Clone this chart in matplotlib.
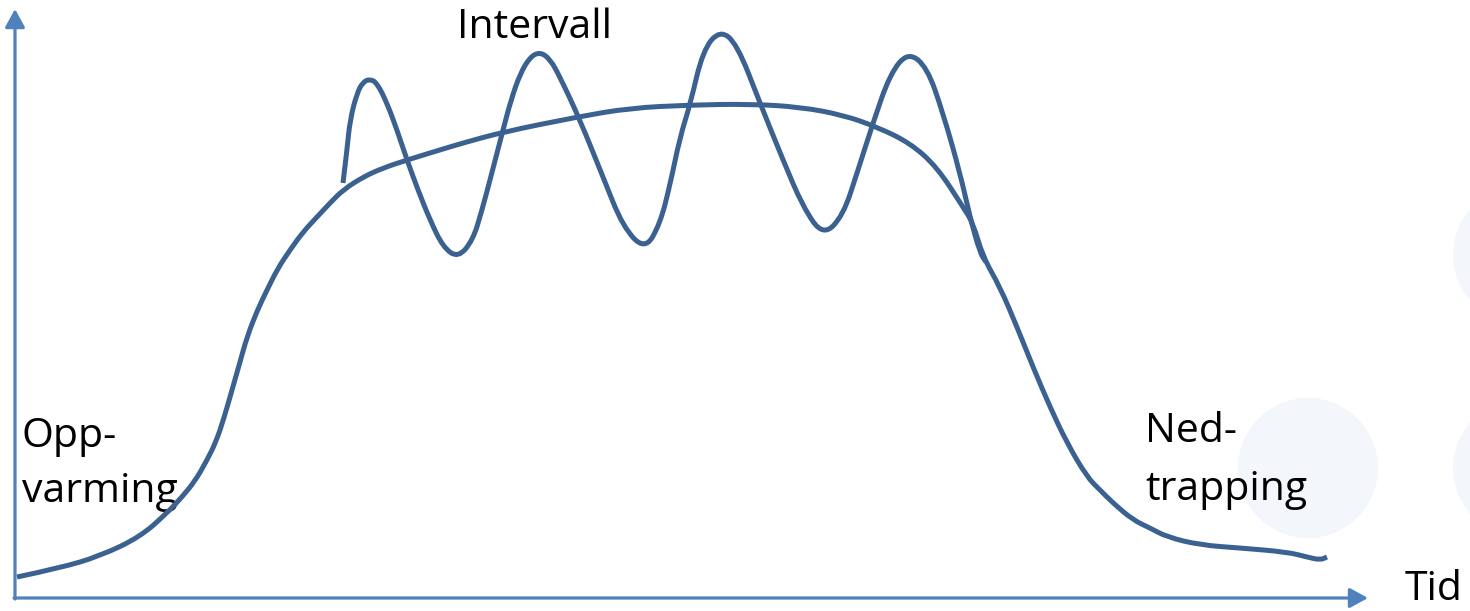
import matplotlib
matplotlib.use("Agg")
import matplotlib.pyplot as plt
from matplotlib.patches import Circle, PathPatch
from matplotlib.path import Path

# Main intensity curve (time, intensity) (pixel-like units, y up)
H = 611
main_t = [17, 60, 100, 140, 167, 182, 195, 206, 216, 224, 232, 240, 247, 257, 267,
          278, 290, 303, 317, 330, 343, 363, 383, 407, 443, 463, 503, 577, 630, 690,
          750, 800, 843, 877, 910, 937, 963, 973, 983, 1000, 1017, 1033, 1050, 1067,
          1087, 1100, 1113, 1133, 1150, 1167, 1200, 1240, 1287, 1307, 1320, 1327]
main_y_px = [577, 568, 556, 537, 513, 497, 481, 462, 442, 418, 390, 362, 337, 311, 290,
             268, 250, 232, 217, 203, 190, 177, 168, 160, 149, 143, 132, 117, 108, 105,
             104, 107, 115, 127, 143, 167, 207, 223, 257, 287, 327, 367, 407, 443,
             477, 490, 503, 520, 528, 537, 545, 548, 552, 557, 560, 557]

# Interval oscillation curve
int_t = [343, 347, 350, 357, 363, 370, 377, 387, 397, 407, 418, 430, 443, 458, 473, 482,
         490, 503, 511, 520, 530, 540, 550, 560, 580, 603, 623, 645, 660, 670, 680,
         690, 703, 720, 737, 760, 783, 803, 823, 843, 858, 873, 890, 908, 927, 943,
         960, 970, 980, 986]
int_y_px = [183, 150, 120, 93, 82, 79, 83, 103, 130, 160, 190, 220, 247, 258, 240, 210,
            180, 130, 100, 74, 57, 52, 59, 77, 120, 177, 227, 250, 224, 185, 137,
            105, 50, 30, 44, 103, 160, 207, 236, 216, 170, 123, 74, 52, 67, 113,
            173, 217, 253, 262]

main_y = [H - v for v in main_y_px]
int_y = [H - v for v in int_y_px]

curve_color = "#3A6190"
axis_color = "#4F81BD"
circle_color = "#F3F7FC"


def smooth_path(xs, ys):
    pts = list(zip(xs, ys))
    verts = [pts[0]]
    codes = [Path.MOVETO]
    for i in range(1, len(pts) - 1):
        mid = ((pts[i][0] + pts[i + 1][0]) / 2, (pts[i][1] + pts[i + 1][1]) / 2)
        verts += [pts[i], mid]
        codes += [Path.CURVE3, Path.CURVE3]
    verts.append(pts[-1])
    codes.append(Path.LINETO)
    return Path(verts, codes)


fig = plt.figure(figsize=(14.7, 6.11), dpi=100)
ax = fig.add_axes([0, 0, 1, 1])
ax.set_xlim(0, 1470)
ax.set_ylim(0, H)
ax.axis("off")

# faint background circles
for cx, cy, r in [(1308, H - 468, 70), (1523, H - 255, 70), (1523, H - 468, 70)]:
    ax.add_patch(Circle((cx, cy), r, color=circle_color, zorder=0, lw=0))

# axes arrows
arrow_kw = dict(arrowstyle="-|>,head_length=0.55,head_width=0.3", lw=2.3,
                color=axis_color, mutation_scale=20, shrinkA=0, shrinkB=0)
ax.annotate("", xy=(1368, H - 598), xytext=(14, H - 598), arrowprops=arrow_kw)
ax.annotate("", xy=(15, H - 9), xytext=(15, H - 599), arrowprops=arrow_kw)

for xs, ys in [(main_t, main_y), (int_t, int_y)]:
    ax.add_patch(PathPatch(smooth_path(xs, ys), facecolor="none", edgecolor=curve_color,
                           lw=3.6, capstyle="butt", joinstyle="round", zorder=3))

font = dict(family=["Open Sans", "DejaVu Sans"], fontsize=29.5, color="black",
            va="baseline")
ax.text(457, H - 38, "Intervall", **font)
ax.text(22, H - 447, "Opp-", **font, zorder=2)
ax.text(22, H - 502, "varming", **font, zorder=2)
ax.text(1145, H - 442, "Ned-", **font)
ax.text(1145, H - 500, "trapping", **font)
ax.text(1405, H - 600, "Tid", **font)

fig.savefig("out.png", dpi=100)
